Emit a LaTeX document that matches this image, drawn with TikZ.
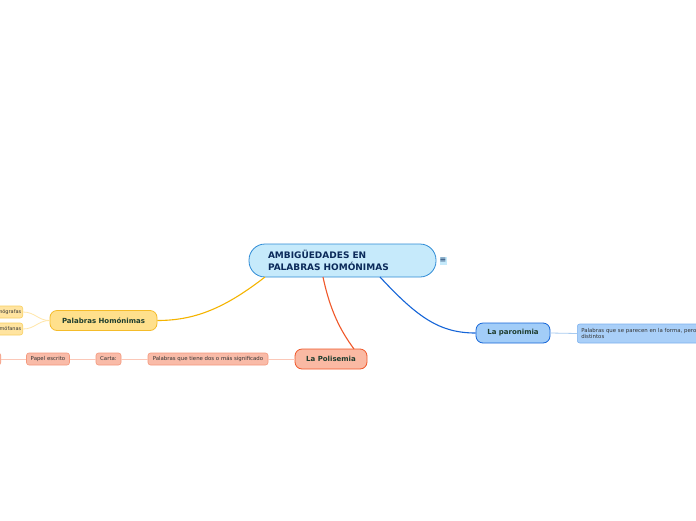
\documentclass[tikz,border=0pt]{standalone}
\usepackage{fontspec}
\setmainfont{DejaVu Sans}
\definecolor{cfill}{HTML}{C6EAFB}
\definecolor{cdraw}{HTML}{2E8BD6}
\definecolor{ctext}{HTML}{0B2A5A}
\definecolor{hfill}{HTML}{FFE08C}
\definecolor{hdraw}{HTML}{F5BC2A}
\definecolor{hline}{HTML}{F5B400}
\definecolor{hcfill}{HTML}{FFE4A0}
\definecolor{hcdraw}{HTML}{F9D060}
\definecolor{hcline}{HTML}{FFE6A8}
\definecolor{pfill}{HTML}{FAB9A3}
\definecolor{pdraw}{HTML}{F0582A}
\definecolor{pcfill}{HTML}{F9BBA8}
\definecolor{pcdraw}{HTML}{F4987C}
\definecolor{pcline}{HTML}{FBC8B8}
\definecolor{rfill}{HTML}{A2CDF8}
\definecolor{rdraw}{HTML}{1565D8}
\definecolor{rcfill}{HTML}{A9CFF8}
\definecolor{rcdraw}{HTML}{7DB2EE}
\definecolor{rcline}{HTML}{A8CBF0}
\definecolor{mtext}{HTML}{1E3D2E}
\tikzset{
  mainbox/.style={draw, line width=0.8pt, rounded corners=7pt, minimum height=20pt, inner sep=0pt, font=\fontsize{7}{8}\selectfont\bfseries, text=mtext},
  subbox/.style={draw, line width=0.6pt, rounded corners=2.5pt, minimum height=12pt, inner sep=0pt, font=\fontsize{5.4}{6.5}\selectfont, text=black!80},
  conn/.style={line width=1.1pt},
}
\begin{document}
\begin{tikzpicture}[x=1pt,y=-1pt]
\useasboundingbox (0,0) rectangle (696,520);
\clip (0,0) rectangle (696,520);
\fill[white] (0,0) rectangle (696,520);
% central
\node[draw=cdraw, fill=cfill, line width=0.8pt, rounded corners=16pt, minimum width=187pt, minimum height=33pt, inner xsep=19pt, inner ysep=0pt, text width=149pt, align=left, font=\fontsize{9}{11.5}\selectfont\bfseries, text=ctext] (c) at (342.5,260.5) {AMBIGÜEDADES EN\\PALABRAS HOMÓNIMAS};
\node[fill=cfill, minimum width=7pt, minimum height=8pt, inner sep=0pt, font=\fontsize{8}{8}\selectfont, text=ctext] (menu) at (443,260.5) {≡};
% main topics
\node[mainbox, fill=hfill, draw=hdraw, minimum width=107pt] (hom) at (103.5,320.5) {Palabras Homónimas};
\node[mainbox, fill=pfill, draw=pdraw, minimum width=72pt] (pol) at (331,359) {La Polisemia};
\node[mainbox, fill=rfill, draw=rdraw, minimum width=74pt] (par) at (513,333) {La paronimia};
% connectors from center
\coordinate (c1) at (265,277);
\draw[conn, hline] (c1) .. controls (225,308) and (195,320.5) .. (hom.east);
\coordinate (c2) at (323,277);
\coordinate (p0) at (354,349);
\draw[conn, pdraw] (c2) .. controls (330,310) and (340,330) .. (p0);
\coordinate (c3) at (380,277);
\draw[conn, rdraw] (c3) .. controls (418,318) and (440,333) .. (par.west);
% Homonimas children
\node[subbox, fill=hcfill, draw=hcdraw, minimum width=50pt, anchor=east, text width=47pt, align=right, font=\fontsize{5}{6}\selectfont] (h1) at (23,312) {Homógrafas};
\node[subbox, fill=hcfill, draw=hcdraw, minimum width=50pt, anchor=east, text width=47pt, align=right, font=\fontsize{5}{6}\selectfont] (h2) at (23,329) {Homófanas};
\draw[line width=0.8pt, hcline] (hom.west) .. controls (38,320.5) and (35,312) .. (h1.east);
\draw[line width=0.8pt, hcline] (hom.west) .. controls (38,320.5) and (35,329) .. (h2.east);
% Polisemia children
\node[subbox, fill=pcfill, draw=pcdraw, minimum width=120pt] (p1) at (208,359) {Palabras que tiene dos o más significado};
\node[subbox, fill=pcfill, draw=pcdraw, minimum width=25pt] (p2) at (108.5,359) {Carta:};
\node[subbox, fill=pcfill, draw=pcdraw, minimum width=43pt] (p3) at (48,359) {Papel escrito};
\node[subbox, fill=pcfill, draw=pcdraw, minimum width=20pt, anchor=east] (p4) at (1,359) {};
\draw[line width=0.8pt, pcline] (pol.west) -- (p1.east);
\draw[line width=0.8pt, pcline] (p1.west) -- (p2.east);
\draw[line width=0.8pt, pcline] (p2.west) -- (p3.east);
\draw[line width=0.8pt, pcline] (p3.west) -- (p4.east);
% paronimia child
\node[subbox, fill=rcfill, draw=rcdraw, minimum width=170pt, minimum height=19pt, anchor=west, inner xsep=4pt, text width=162pt, align=left] (r1) at (577,333.5) {Palabras que se parecen en la forma, pero con\\distintos};
\draw[line width=0.8pt, rcline] (par.east) -- (r1.west);
\end{tikzpicture}
\end{document}
